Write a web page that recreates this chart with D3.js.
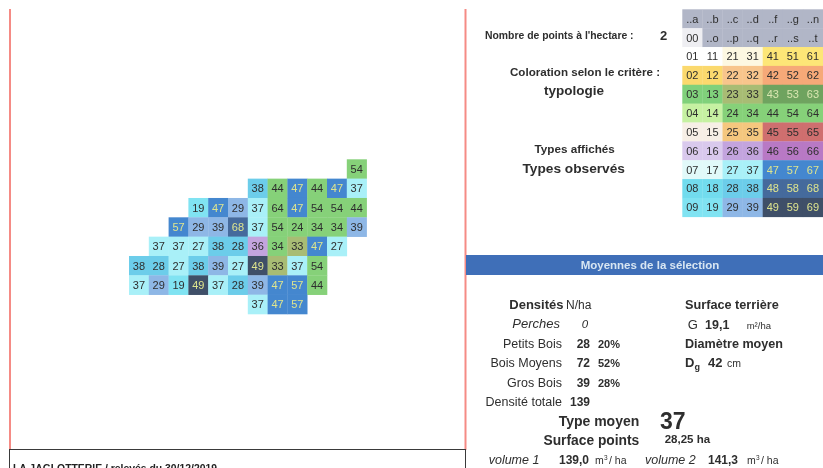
<!DOCTYPE html>
<html>
<head>
<meta charset="utf-8">
<script src="https://cdn.jsdelivr.net/npm/d3@7"></script>
<style>
  html, body { margin: 0; padding: 0; background: #fff; overflow: hidden; }
  svg { display: block; filter: blur(0.45px); }
  text { font-family: "Liberation Sans", Arial, sans-serif; fill: #2e2e2e; }
</style>
</head>
<body>
<svg width="823" height="468"></svg>
<script>
(() => {
  // Parcel map: type code per inventory point, row by row (null = no point)
  const mapRows = [
    [null, null, null, null, null, null, null, null, null, null, null, "54"],
    [null, null, null, null, null, null, "38", "44", "47", "44", "47", "37"],
    [null, null, null, "19", "47", "29", "37", "64", "47", "54", "54", "44"],
    [null, null, "57", "29", "39", "68", "37", "54", "24", "34", "34", "39"],
    [null, "37", "37", "27", "38", "28", "36", "34", "33", "47", "27", null],
    ["38", "28", "27", "38", "39", "27", "49", "33", "37", "54", null, null],
    ["37", "29", "19", "49", "37", "28", "39", "47", "57", "44", null, null],
    [null, null, null, null, null, null, "37", "47", "57", null, null, null]
  ];

  // Legend of the types
  const legendRows = [
    ["..a", "..b", "..c", "..d", "..f", "..g", "..n"],
    ["00", "..o", "..p", "..q", "..r", "..s", "..t"],
    ["01", "11", "21", "31", "41", "51", "61"],
    ["02", "12", "22", "32", "42", "52", "62"],
    ["03", "13", "23", "33", "43", "53", "63"],
    ["04", "14", "24", "34", "44", "54", "64"],
    ["05", "15", "25", "35", "45", "55", "65"],
    ["06", "16", "26", "36", "46", "56", "66"],
    ["07", "17", "27", "37", "47", "57", "67"],
    ["08", "18", "28", "38", "48", "58", "68"],
    ["09", "19", "29", "39", "49", "59", "69"]
  ];
  const legendColors = [
    ["#b1b6c7", "#b1b6c7", "#b1b6c7", "#b1b6c7", "#b1b6c7", "#b1b6c7", "#b1b6c7"],
    ["#eeeef2", "#b1b6c7", "#b1b6c7", "#b1b6c7", "#b1b6c7", "#b1b6c7", "#b1b6c7"],
    ["#ffffff", "#ffffff", "#fdf8e2", "#fdf8e2", "#fde677", "#fde677", "#fde677"],
    ["#fbd96e", "#fbd96e", "#f8c58c", "#f8c58c", "#f6a978", "#f6a978", "#f6a978"],
    ["#80d17b", "#80d17b", "#a8bc74", "#a8bc74", "#6fa35f", "#6fa35f", "#6fa35f"],
    ["#c6f1a2", "#c6f1a2", "#86d179", "#86d179", "#86d179", "#86d179", "#86d179"],
    ["#f7efe6", "#f7efe6", "#f5c77e", "#f5c77e", "#cf6f6f", "#cf6f6f", "#cf6f6f"],
    ["#d9c9ed", "#d9c9ed", "#c3a4de", "#c3a4de", "#b879c5", "#b879c5", "#b879c5"],
    ["#e1f9f9", "#e1f9f9", "#a9f0f8", "#a9f0f8", "#4487cf", "#4487cf", "#4487cf"],
    ["#72dcee", "#72dcee", "#6ccdea", "#6ccdea", "#456a9c", "#456a9c", "#456a9c"],
    ["#80e3f2", "#80e3f2", "#8eb7e6", "#8eb7e6", "#3f4f68", "#3f4f68", "#3f4f68"]
  ];
  const lightCodes = ["43", "53", "63"];
  const yellowCodes = ["47", "57", "67", "48", "58", "68", "49", "59", "69"];

  const typeColor = new Map();
  legendRows.forEach((row, i) => row.forEach((code, j) => typeColor.set(code, legendColors[i][j])));

  const textColor = (code) => {
    if (lightCodes.includes(code)) return "#d9e6b0";
    if (yellowCodes.includes(code)) return "#dfe58e";
    return "#2e2e2e";
  };

  const svg = d3.select("svg");

  const drawGrid = (rows, x, y, fontSize) => {
    const cells = rows.flatMap((row, i) => row.map((code, j) => ({ code, i, j }))).filter((d) => d.code);
    const g = svg.append("g");
    g.selectAll("rect")
      .data(cells)
      .enter().append("rect")
        .attr("x", (d) => x(d.j))
        .attr("y", (d) => y(d.i))
        .attr("width", x.bandwidth() + 0.3)
        .attr("height", y.bandwidth() + 0.3)
        .attr("fill", (d) => typeColor.get(d.code));
    g.selectAll("text")
      .data(cells)
      .enter().append("text")
        .attr("x", (d) => x(d.j) + x.bandwidth() / 2)
        .attr("y", (d) => y(d.i) + y.bandwidth() / 2)
        .attr("dy", "0.36em")
        .attr("text-anchor", "middle")
        .style("font-size", fontSize + "px")
        .style("fill", (d) => textColor(d.code))
        .text((d) => d.code);
  };

  const mapX = d3.scaleBand().domain(d3.range(12)).range([129, 366.6]);
  const mapY = d3.scaleBand().domain(d3.range(8)).range([159.3, 314]);
  const legendX = d3.scaleBand().domain(d3.range(7)).range([682.3, 823]);
  const legendY = d3.scaleBand().domain(d3.range(11)).range([9.3, 216.8]);

  drawGrid(mapRows, mapX, mapY, 11);
  drawGrid(legendRows, legendX, legendY, 11);

  // Page frame
  svg.append("line").attr("x1", 10).attr("x2", 10).attr("y1", 9).attr("y2", 450)
    .attr("stroke", "#f58b85").attr("stroke-width", 2);
  svg.append("line").attr("x1", 465.5).attr("x2", 465.5).attr("y1", 9).attr("y2", 450)
    .attr("stroke", "#f58b85").attr("stroke-width", 2);
  svg.append("rect").attr("x", 9.5).attr("y", 449.5).attr("width", 456).attr("height", 40)
    .attr("fill", "none").attr("stroke", "#3a3a3a").attr("stroke-width", 1);

  svg.append("rect").attr("x", 466).attr("y", 255).attr("width", 357).attr("height", 20)
    .attr("fill", "#3f6fb8");

  const label = (x, y, str, size, opts = {}) => {
    const t = svg.append("text")
      .attr("x", x)
      .attr("y", y)
      .attr("text-anchor", opts.anchor || "start")
      .style("font-size", size + "px")
      .style("font-weight", opts.bold ? "bold" : "normal")
      .style("font-style", opts.italic ? "italic" : "normal")
      .text(str);
    if (opts.fill) t.style("fill", opts.fill);
    return t;
  };

  // Header block
  label(485, 39.3, "Nombre de points à l'hectare :", 10.4, { bold: true });
  label(660, 39.5, "2", 13, { bold: true });
  label(510, 76, "Coloration selon le critère :", 11.6, { bold: true });
  label(544, 95, "typologie", 13.5, { bold: true });
  label(534.5, 153, "Types affichés", 11.7, { bold: true });
  label(522.5, 173, "Types observés", 13.7, { bold: true });

  label(650, 269, "Moyennes de la sélection", 11.5, { anchor: "middle", bold: true, fill: "#d8e6f2" });

  // Densities
  label(509.3, 308.7, "Densités", 13, { bold: true });
  label(566, 308.7, "N/ha", 12);
  label(560, 328, "Perches", 13, { anchor: "end", italic: true });
  label(585, 328, "0", 11.5, { anchor: "middle", italic: true });

  const densityLabels = ["Petits Bois", "Bois Moyens", "Gros Bois"];
  const densityValues = ["28", "72", "39"];
  const densityShares = ["20%", "52%", "28%"];
  const densityY = d3.scalePoint().domain(d3.range(3)).range([347.7, 386.7]);
  densityLabels.forEach((name, i) => {
    label(562, densityY(i), name, 12.5, { anchor: "end" });
    label(590, densityY(i), densityValues[i], 12, { anchor: "end", bold: true });
    label(598, densityY(i), densityShares[i], 11, { bold: true });
  });
  label(562, 406, "Densité totale", 12.5, { anchor: "end" });
  label(590, 406, "139", 12, { anchor: "end", bold: true });

  // Basal area and diameter
  label(685, 308.7, "Surface terrière", 12.7, { bold: true });
  label(687.7, 329, "G", 13);
  label(705, 329, "19,1", 12.5, { bold: true });
  label(746.7, 329, "m²/ha", 9.5);
  label(685, 347.7, "Diamètre moyen", 12.6, { bold: true });
  label(685, 367, "D", 13, { bold: true });
  label(694.5, 370, "g", 9, { bold: true });
  label(708, 367, "42", 13, { bold: true });
  label(727, 367, "cm", 10.5);

  // Summary
  label(639.3, 425.7, "Type moyen", 14, { anchor: "end", bold: true });
  label(660, 429, "37", 23, { bold: true });
  label(639.3, 445, "Surface points", 13.8, { anchor: "end", bold: true });
  label(664.7, 443, "28,25 ha", 11.5, { bold: true });

  label(488.7, 464, "volume 1", 12.5, { italic: true });
  label(559, 464, "139,0", 12, { bold: true });
  label(595, 464, "m", 10.5);
  label(604, 460, "3", 6.5);
  label(609, 464, "/ ha", 10.5);
  label(645, 464, "volume 2", 12.5, { italic: true });
  label(708, 464, "141,3", 12, { bold: true });
  label(747, 464, "m", 10.5);
  label(756, 460, "3", 6.5);
  label(761, 464, "/ ha", 10.5);

  // The scan stops halfway through this line, as in the source document
  label(13, 472, "LA JAGLOTTERIE / relevés du 30/12/2019", 10.4, { bold: true, fill: "#222" });
})();
</script>
</body>
</html>
